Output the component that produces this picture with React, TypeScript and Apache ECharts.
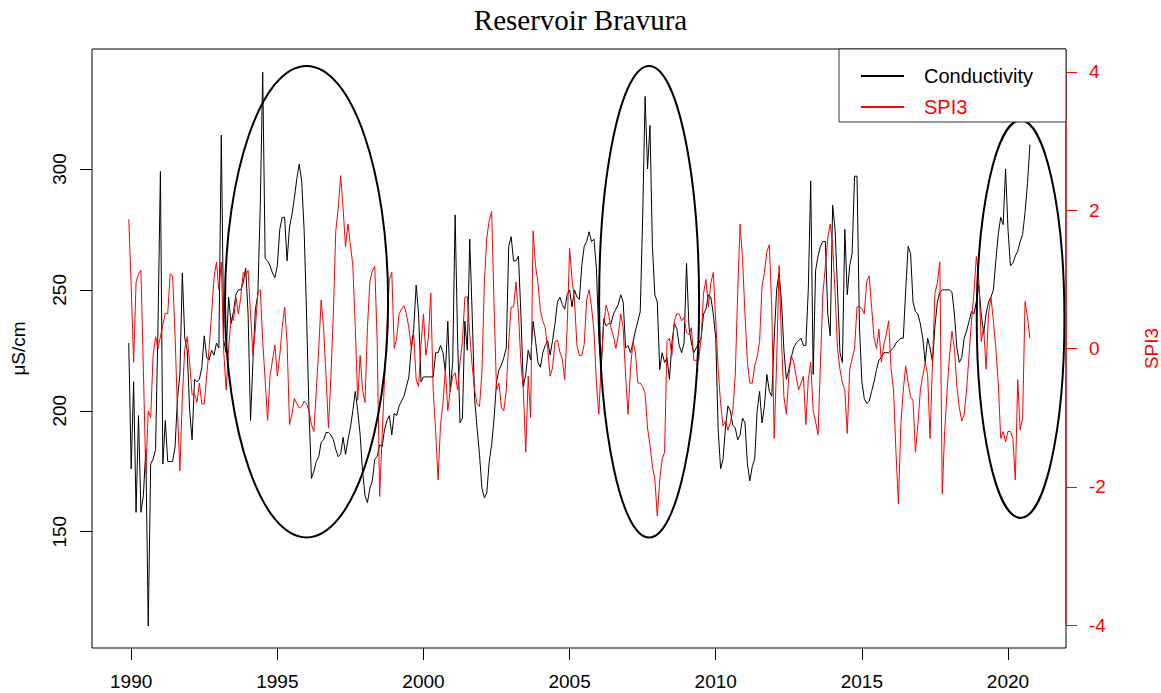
import React, { useEffect, useRef } from "react";
import * as echarts from "echarts";

// Monthly series, first value = December 1989
const startYear = 1989;
const startMonth = 12;

const conductivity = [
  228, 176, 212, 158, 198, 158, 165, 184, 111, 178,
  180, 184, 235, 299, 178, 196, 179, 179, 179, 185,
  205, 215, 257, 230, 225, 200, 188, 213, 212, 213,
  218, 231, 222, 221, 225, 223, 228, 226, 314, 229,
  224, 247, 236, 241, 248, 250, 250, 253, 259, 240,
  196, 221, 242, 248, 285,
  340, 263, 262, 260, 257, 255, 260, 275, 280, 280,
  262, 276, 281, 288, 296, 302, 295, 275, 240, 200,
  172, 175, 179, 181, 187, 188, 191, 191, 190, 188,
  184, 181, 182, 189, 182, 188, 193, 200, 208, 200,
  190, 175, 165, 162, 168, 171, 180, 181, 186, 185,
  192, 196, 198, 190, 199, 198, 202, 204, 206, 210,
  214, 226, 234, 252, 240, 212, 214,
  214, 214, 214, 214, 224, 224, 227, 224, 216, 237,
  208, 220, 281, 230, 195, 197, 237, 225, 271, 240,
  205, 193, 182, 168, 164, 166, 179, 186, 197, 212,
  217, 219, 222, 226, 268, 272, 262, 262, 264, 240,
  210, 215, 225, 221, 237, 229, 220, 218, 224, 227,
  229, 223, 229, 236, 245, 247, 244, 242, 248, 250,
  243, 250, 247, 246, 260, 268, 270,
  274, 270, 271, 259, 230, 218, 238, 235, 236, 236,
  240, 242, 244, 248, 245, 226, 227, 224, 228, 233,
  237, 241, 280, 330, 300, 318, 268, 248, 245, 217,
  224, 220, 222, 213, 228, 236, 234, 227, 224, 228,
  261, 235, 228, 224, 226, 228, 230, 240, 242, 248,
  247, 240, 230, 192, 176, 180, 193, 202, 200, 194,
  193, 188, 190, 197, 195, 178, 171,
  177, 180, 200, 208, 195, 202, 215, 208, 206, 230,
  250, 257, 245, 225, 213, 217, 222, 226, 228, 229,
  230, 227, 227, 250, 295, 215, 258, 264, 268, 270,
  270, 240, 231, 285, 275, 250, 224, 220, 275, 248,
  260, 265, 297, 297, 235, 212, 205, 203, 204, 208,
  212, 217, 221, 222, 224, 224, 224, 225, 226, 228,
  229, 230, 230, 250, 268, 265,
  245, 241, 240, 236, 230, 220, 230, 226, 220, 235,
  245, 249, 250, 250, 250, 250, 249, 240, 226, 220,
  222, 230, 233, 237, 241, 240, 245, 252, 240, 232,
  240, 245, 247, 250, 262, 273, 280, 277, 300, 275,
  260, 261, 264, 266, 270, 273, 282, 294, 310,
];

const spi3 = [
  1.87, 0.9, -0.2, 0.96, 1.08, 1.13, -0.3, -1.8, -0.9, -1.0,
  -0.1, 0.17, 0.0, 0.17, 0.34, 0.51, 0.5, 1.08, 1.05, 0.2,
  -0.9, -1.77, -0.7, 0.0, 0.17, -0.2, -0.67, -0.65, -0.78, -0.5,
  -0.8, -0.8, -0.39, 0.0, 0.5, 1.02, 1.25, 0.85, 1.25, -0.05,
  -0.6, 0.0, 0.45, 0.4, 0.74, 0.5, 0.74, 1.1, 1.05, 1.13,
  0.5, -0.1, 0.3, 0.8, 0.85,
  0.1, -0.45, -1.04, -0.4, -0.17, 0.05, -0.4, -0.1, 0.3, 0.6,
  0.1, -1.1, -0.95, -0.72, -0.8, -0.86, -0.84, -0.76, -0.8, -0.9,
  -1.1, -1.2, -0.6, 0.0, 0.7, 0.3, -0.4, -1.15, -0.4, 0.5,
  1.7, 2.03, 2.5, 2.03, 1.47, 1.8, 1.5, 1.2, 0.3, -0.75,
  -0.1, -0.6, -0.78, 0.3, 0.97, 1.12, 1.19, 0.1, -2.14, -1.3,
  -0.45, 0.3, 1.0, 1.1, 0.0, 0.15, 0.5, 0.57, 0.62, 0.5,
  0.3, 0.0, 0.2, -0.45, -0.55, 0.06, 0.5,
  -0.1, 0.15, 0.8, -0.6, -1.2, -1.9, -1.1, -0.8, -0.3, -0.9,
  -0.6, -0.4, -0.35, -0.6, -0.2, 0.1, 0.74, 0.75, 0.2, -0.25,
  -0.6, -0.8, -0.84, -0.35, 0.96, 1.6, 1.85, 1.98, 0.6, -0.6,
  -0.5, -0.85, -0.9, -0.6, 0.1, 0.6, 0.6, 0.96, 0.5, -0.2,
  -0.6, -1.5, -0.4, -1.0, 1.7, 1.2, 0.95, 0.55, 0.4, 0.3,
  0.0, -0.4, -0.28, 0.1, 0.12, -0.05, -0.15, -0.45, 0.3, 1.45,
  1.0, 0.7, 0.05, -0.1, -0.1, 0.06, 0.7,
  0.85, 0.6, 0.25, -0.5, -0.95, -0.2, 0.35, 0.63, 0.5, 0.3,
  0.18, 0.0, 0.2, 0.5, 0.3, -0.4, -0.95, -0.3, 0.1, -0.05,
  -0.5, -0.5, -0.55, -0.65, -1.15, -1.4, -1.7, -1.9, -2.42, -1.9,
  -1.6, -1.5, 0.1, 0.15, -0.1, 0.4, 0.5, 0.5, 0.4, 0.45,
  0.23, 0.2, 0.3, -0.17, -0.17, -0.17, 0.15, 0.8, 1.0, 0.6,
  0.95, 1.1, 0.4, -0.3, -0.8, -1.12, -1.05, -1.18, -1.07, -0.9,
  -0.4, 0.8, 1.8, 1.3, 0.5, -0.2, -0.5,
  -0.5, -0.25, -0.12, 0.1, 0.9, 1.1, 1.4, 1.5, 0.6, -1.3,
  -0.2, 1.2, 0.1, -0.7, -0.95, -0.4, -0.1, -0.2, -0.4, -0.6,
  -0.5, -0.4, -1.1, -0.45, -0.2, -0.9, -1.06, -1.25, -0.2, 0.8,
  1.18, 1.6, 1.8, 1.5, 0.8, 0.0, -0.3, -0.5, -0.6, -1.23,
  -0.3, -0.15, 0.0, 0.6, 0.6, 0.58, 0.5, 0.97, 1.05, 0.6,
  0.15, 0.0, 0.28, -0.2, 0.05, 0.2, 0.4, -0.3, -0.6, -1.5,
  -2.25, -1.1, -0.6, -0.25, -0.5, -0.7,
  -0.75, -1.5, -1.1, -0.6, -0.4, -0.2, -0.38, -1.3, -0.2, 0.8,
  0.95, 1.25, -2.1, -1.2, -0.6, -0.1, 0.25, 0.0, -0.55, -0.85,
  -1.05, -0.95, -0.6, -0.1, 0.4, 0.8, 1.33, 1.0, 0.1, 0.3,
  -0.3, 0.5, 0.74, 0.4, 0.0, -0.5, -1.3, -1.2, -1.35, -1.2,
  -1.2, -1.3, -1.9, -0.45, -1.18, -1.0, 0.68, 0.45, 0.15,
];

const xTicks = [1990, 1995, 2000, 2005, 2010, 2015, 2020];
const leftTicks = [150, 200, 250, 300];
const rightTicks = [-4, -2, 0, 2, 4];

const xRange = [1988.659, 2021.984];
const leftRange = [101.9, 349.6];
const rightRange = [-4.33, 4.33];

// Highlight ellipses (data units: year, µS/cm)
const ellipseYear = [1996.0, 2007.72, 2020.43];
const ellipseHalfYears = [2.79, 1.71, 1.5];
const ellipseCond = [245.1, 245.1, 237.9];
const ellipseHalfCond = [97.5, 97.5, 82.2];

const FONT = "'Liberation Sans', Arial, sans-serif";

function monthTime(i: number) {
  return startYear + (startMonth - 1) / 12 + i / 12;
}

export default function App() {
  const ref = useRef<HTMLDivElement>(null);

  useEffect(() => {
    if (!ref.current) return;
    const chart = echarts.init(ref.current, null, { renderer: "svg" });
    const condData = conductivity.map((v, i) => [monthTime(i), v]);
    const spiData = spi3.map((v, i) => [monthTime(i), v]);

    chart.setOption({
      animation: false,
      backgroundColor: "#fff",
      title: {
        text: "Reservoir Bravura",
        left: "center",
        top: 5,
        padding: 0,
        textStyle: {
          fontFamily: "'Liberation Serif', 'Times New Roman', serif",
          fontSize: 29,
          fontWeight: "normal",
          color: "#000",
        },
      },
      legend: {
        orient: "vertical",
        left: 860,
        top: 66,
        padding: 0,
        itemWidth: 43,
        itemHeight: 14,
        itemGap: 11,
        itemStyle: { opacity: 0 },
        data: [
          { name: "Conductivity", textStyle: { color: "#000" } },
          { name: "SPI3", textStyle: { color: "#ff0000" } },
        ],
        textStyle: { fontSize: 20, fontFamily: FONT, padding: [0, 0, 0, 15] },
        z: 20,
      },
      grid: {
        left: 92,
        right: 95,
        top: 49,
        bottom: 45,
        containLabel: false,
        outerBoundsMode: "none",
        show: true,
        borderColor: "#000",
        borderWidth: 1,
        backgroundColor: "transparent",
      },
      xAxis: {
        type: "value",
        min: xRange[0],
        max: xRange[1],
        axisLine: { show: false, onZero: false },
        splitLine: { show: false },
        axisTick: {
          show: true,
          length: 12,
          lineStyle: { color: "#000" },
          customValues: xTicks,
        },
        axisLabel: {
          customValues: xTicks,
          formatter: (v: number) => String(Math.round(v)),
          fontSize: 19,
          fontFamily: FONT,
          color: "#000",
          margin: 24,
        },
      },
      yAxis: [
        {
          type: "value",
          position: "left",
          min: leftRange[0],
          max: leftRange[1],
          axisLine: { show: false, onZero: false },
          splitLine: { show: false },
          axisTick: {
            show: true,
            length: 12,
            lineStyle: { color: "#000" },
            customValues: leftTicks,
          },
          axisLabel: {
            customValues: leftTicks,
            rotate: 90,
            fontSize: 19,
            fontFamily: FONT,
            color: "#000",
            margin: 23,
          },
          name: "μS/cm",
          nameLocation: "middle",
          nameGap: 64,
          nameRotate: 90,
          nameTextStyle: { fontSize: 19, fontFamily: FONT, color: "#000" },
        },
        {
          type: "value",
          position: "right",
          min: rightRange[0],
          max: rightRange[1],
          axisLine: { show: false, onZero: false },
          splitLine: { show: false },
          axisTick: {
            show: true,
            length: 11,
            lineStyle: { color: "#ff0000" },
            customValues: rightTicks,
          },
          axisLabel: {
            customValues: rightTicks,
            fontSize: 19,
            fontFamily: FONT,
            color: "#ff0000",
            margin: 23,
          },
          name: "SPI3",
          nameLocation: "middle",
          nameGap: 76,
          nameRotate: 90,
          nameTextStyle: { fontSize: 19, fontFamily: FONT, color: "#ff0000" },
        },
      ],
      series: [
        {
          name: "Conductivity",
          type: "line",
          yAxisIndex: 0,
          data: condData,
          symbol: "none",
          showSymbol: false,
          lineStyle: { color: "#000", width: 1 },
          itemStyle: { color: "#000" },
        },
        {
          name: "SPI3",
          type: "line",
          yAxisIndex: 1,
          data: spiData,
          symbol: "none",
          showSymbol: false,
          lineStyle: { color: "#ff0000", width: 1 },
          itemStyle: { color: "#ff0000" },
        },
      ],
    });

    const toPx = (x: number, y: number, yi: number) =>
      chart.convertToPixel({ xAxisIndex: 0, yAxisIndex: yi }, [x, y]) as number[];

    const ellipses = ellipseYear.map((cx, i) => {
      const c = toPx(cx, ellipseCond[i], 0);
      const e = toPx(cx + ellipseHalfYears[i], ellipseCond[i] + ellipseHalfCond[i], 0);
      return {
        type: "ellipse",
        silent: true,
        z: 10,
        shape: { cx: c[0], cy: c[1], rx: e[0] - c[0], ry: c[1] - e[1] },
        style: { fill: "none", stroke: "#000", lineWidth: 2 },
      };
    });
    const axTop = toPx(xRange[1], rightTicks[rightTicks.length - 1], 1);
    const axBot = toPx(xRange[1], rightTicks[0], 1);
    const corner = toPx(xRange[1], leftRange[1], 0);

    chart.setOption({
      graphic: [
        ...ellipses,
        {
          type: "line",
          silent: true,
          z: 11,
          shape: { x1: axTop[0], y1: axTop[1], x2: axBot[0], y2: axBot[1] },
          style: { stroke: "#ff0000", lineWidth: 1 },
        },
        {
          type: "rect",
          silent: true,
          z: 12,
          shape: { x: 839, y: corner[1], width: corner[0] - 839, height: 73 },
          style: { fill: "#fff", stroke: "#333", lineWidth: 1 },
        },
      ],
    });

    return () => chart.dispose();
  }, []);

  return (
    <div
      ref={ref}
      style={{ position: "absolute", left: 0, top: 0, width: 1161, height: 693 }}
    />
  );
}
